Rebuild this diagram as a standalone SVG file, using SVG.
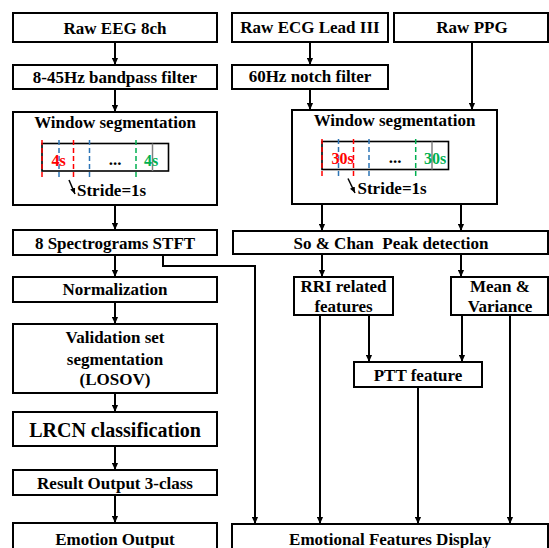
<svg xmlns="http://www.w3.org/2000/svg" width="549" height="548" viewBox="0 0 549 548">
<style>
text{font-family:'Liberation Serif','Times New Roman',Tinos,'DejaVu Serif',serif;font-weight:700;font-size:17px;fill:#000;text-anchor:middle}
.box{fill:#fff;stroke:#000;stroke-width:2}
.strip{fill:none;stroke:#000;stroke-width:1.6}
.c{fill:none;stroke:#000;stroke-width:2}
.s{fill:none;stroke:#000;stroke-width:1.5}
.dr{stroke:#ff0000;stroke-width:1.5;stroke-dasharray:5 3}
.db{stroke:#2e75b6;stroke-width:1.5;stroke-dasharray:5 3}
.dg{stroke:#00b050;stroke-width:1.5;stroke-dasharray:5 3}
.dy{stroke:#808080;stroke-width:1.5}
.red{fill:#ff0000;font-size:16px}
.grn{fill:#00b050;font-size:16px}
.l{text-anchor:start}
</style>
<defs>
<marker id="ah" viewBox="0 0 8 8" markerUnits="userSpaceOnUse" markerWidth="7" markerHeight="7" refX="8" refY="4" orient="auto">
<path d="M0,0.5 L8,4 L0,7.5 z" fill="#000"/>
</marker>
<marker id="ahs" viewBox="0 0 8 8" markerUnits="userSpaceOnUse" markerWidth="6" markerHeight="6" refX="8" refY="4" orient="auto">
<path d="M0,0.5 L8,4 L0,7.5 z" fill="#000"/>
</marker>
</defs>

<g id="connectors">
<line class="c" x1="115" y1="42" x2="115" y2="65" marker-end="url(#ah)"/>
<line class="c" x1="115" y1="89" x2="115" y2="112" marker-end="url(#ah)"/>
<line class="c" x1="115" y1="205" x2="115" y2="230" marker-end="url(#ah)"/>
<line class="c" x1="115" y1="255" x2="115" y2="277" marker-end="url(#ah)"/>
<line class="c" x1="115" y1="302" x2="115" y2="324" marker-end="url(#ah)"/>
<line class="c" x1="115" y1="393" x2="115" y2="412" marker-end="url(#ah)"/>
<line class="c" x1="115" y1="446" x2="115" y2="470" marker-end="url(#ah)"/>
<line class="c" x1="115" y1="495" x2="115" y2="523" marker-end="url(#ah)"/>
<polyline class="c" points="163,255 163,266 255,266 255,524" marker-end="url(#ah)"/>
<line class="c" x1="310" y1="42" x2="310" y2="65" marker-end="url(#ah)"/>
<line class="c" x1="310" y1="89" x2="310" y2="110" marker-end="url(#ah)"/>
<line class="c" x1="472" y1="42" x2="472" y2="110" marker-end="url(#ah)"/>
<line class="c" x1="322" y1="204" x2="322" y2="231" marker-end="url(#ah)"/>
<line class="c" x1="461" y1="204" x2="461" y2="231" marker-end="url(#ah)"/>
<line class="c" x1="322" y1="254" x2="322" y2="277" marker-end="url(#ah)"/>
<line class="c" x1="461" y1="254" x2="461" y2="277" marker-end="url(#ah)"/>
<line class="c" x1="320" y1="315" x2="320" y2="524" marker-end="url(#ah)"/>
<line class="c" x1="369" y1="315" x2="369" y2="362" marker-end="url(#ah)"/>
<line class="c" x1="462" y1="315" x2="462" y2="362" marker-end="url(#ah)"/>
<line class="c" x1="510" y1="315" x2="510" y2="524" marker-end="url(#ah)"/>
<line class="c" x1="418" y1="387" x2="418" y2="524" marker-end="url(#ah)"/>
</g>

<g id="raw-eeg"><rect class="box" x="13" y="13" width="204" height="29"/><text x="115" y="34">Raw EEG 8ch</text></g>
<g id="bandpass"><rect class="box" x="13" y="65" width="204" height="24"/><text x="115" y="83">8-45Hz bandpass filter</text></g>
<g id="eeg-window">
<rect class="box" x="13" y="112" width="204" height="93"/>
<text x="115" y="128">Window segmentation</text>
<rect class="strip" x="42" y="143.5" width="126.5" height="27.5"/>
<line class="dr" x1="42" y1="140" x2="42" y2="178"/>
<line class="dr" x1="73.5" y1="140" x2="73.5" y2="178"/>
<line class="db" x1="59" y1="140" x2="59" y2="178"/>
<line class="db" x1="89.5" y1="140" x2="89.5" y2="178"/>
<line class="dg" x1="136" y1="140" x2="136" y2="178"/>
<line class="dy" x1="152.5" y1="143.5" x2="152.5" y2="171"/>
<text class="red" x="58.5" y="166">4s</text>
<text x="115" y="165">...</text>
<text class="grn" x="151" y="166">4s</text>
<line class="s" x1="69" y1="180" x2="75" y2="194" marker-end="url(#ahs)"/>
<text class="l" x="77" y="196">Stride=1s</text>
</g>
<g id="eeg-stft"><rect class="box" x="13" y="230" width="204" height="25"/><text x="115" y="249">8 Spectrograms STFT</text></g>
<g id="normalization"><rect class="box" x="13" y="277" width="204" height="25"/><text x="115" y="295">Normalization</text></g>
<g id="validation"><rect class="box" x="13" y="324" width="204" height="69"/><text x="115" y="343">Validation set</text><text x="115" y="365">segmentation</text><text x="115" y="385">(LOSOV)</text></g>
<g id="lrcn"><rect class="box" x="13" y="412" width="204" height="34"/><text x="115" y="437" style="font-size:20px">LRCN classification</text></g>
<g id="result"><rect class="box" x="13" y="470" width="204" height="25"/><text x="115" y="489">Result Output 3-class</text></g>
<g id="emotion-output"><rect class="box" x="13" y="523" width="204" height="40"/><text x="115" y="545">Emotion Output</text></g>

<g id="raw-ecg"><rect class="box" x="232" y="13" width="156" height="29"/><text x="310" y="33">Raw ECG Lead III</text></g>
<g id="raw-ppg"><rect class="box" x="394" y="13" width="154" height="29"/><text x="472" y="33">Raw PPG</text></g>
<g id="notch"><rect class="box" x="232" y="65" width="156" height="24"/><text x="310" y="82">60Hz notch filter</text></g>
<g id="ecg-window">
<rect class="box" x="292" y="110" width="205" height="94"/>
<text x="394.5" y="126">Window segmentation</text>
<rect class="strip" x="322" y="141.5" width="126.5" height="28"/>
<line class="dr" x1="322" y1="139" x2="322" y2="177"/>
<line class="dr" x1="353.5" y1="139" x2="353.5" y2="177"/>
<line class="db" x1="338.5" y1="139" x2="338.5" y2="177"/>
<line class="db" x1="369" y1="139" x2="369" y2="177"/>
<line class="dg" x1="415.7" y1="139" x2="415.7" y2="177"/>
<line class="dy" x1="432" y1="141.5" x2="432" y2="169.5"/>
<text class="red" x="342.5" y="163.5">30s</text>
<text x="395" y="163">...</text>
<text class="grn" x="435" y="163.5">30s</text>
<line class="s" x1="348" y1="178.5" x2="355" y2="193" marker-end="url(#ahs)"/>
<text class="l" x="357.5" y="194">Stride=1s</text>
</g>
<g id="peak"><rect class="box" x="233" y="231" width="315" height="23"/><text x="391" y="249" style="white-space:pre">So &amp; Chan  Peak detection</text></g>
<g id="rri"><rect class="box" x="294" y="277" width="99" height="38"/><text x="343.5" y="292">RRI related</text><text x="343.5" y="312">features</text></g>
<g id="mean-var"><rect class="box" x="451" y="277" width="97" height="38"/><text x="500" y="292">Mean &amp;</text><text x="500" y="312">Variance</text></g>
<g id="ptt"><rect class="box" x="354" y="362" width="128" height="25"/><text x="418" y="381">PTT feature</text></g>
<g id="features-display"><rect class="box" x="232" y="524" width="316" height="40"/><text x="390" y="545">Emotional Features Display</text></g>
</svg>
